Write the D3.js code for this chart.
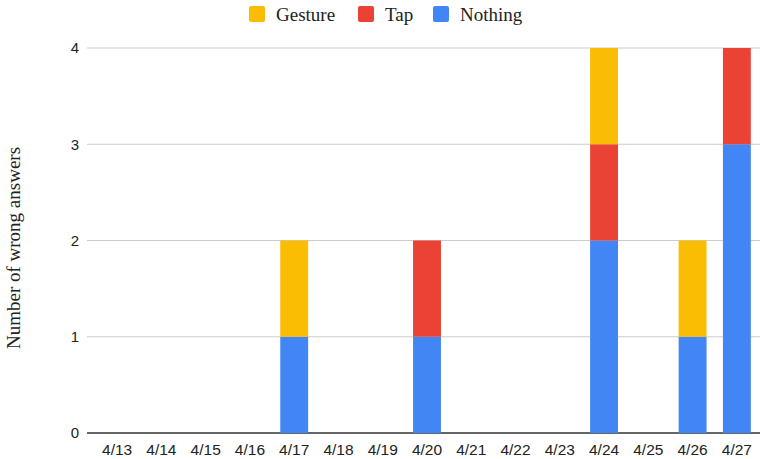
<!DOCTYPE html>
<html>
<head>
    <script src="https://cdnjs.cloudflare.com/ajax/libs/d3/7.8.5/d3.min.js"></script>
    <style>
        body { margin: 0; background: #fff; }
    </style>
</head>
<body>
    <svg id="chart" width="760" height="459"></svg>
    <script>
        var days = ["4/13", "4/14", "4/15", "4/16", "4/17", "4/18", "4/19", "4/20",
                    "4/21", "4/22", "4/23", "4/24", "4/25", "4/26", "4/27"]
        var nothing = [0, 0, 0, 0, 1, 0, 0, 1, 0, 0, 0, 2, 0, 1, 3]
        var tap     = [0, 0, 0, 0, 0, 0, 0, 1, 0, 0, 0, 1, 0, 0, 1]
        var gesture = [0, 0, 0, 0, 1, 0, 0, 0, 0, 0, 0, 1, 0, 1, 0]
        var yTicks = [0, 1, 2, 3, 4]

        var keys = ["Nothing", "Tap", "Gesture"]
        var colors = { Nothing: "#4285f4", Tap: "#ea4335", Gesture: "#fbbc04" }

        var rows = days.map((d, i) => ({ day: d, Nothing: nothing[i], Tap: tap[i], Gesture: gesture[i] }))
        var series = d3.stack().keys(keys)(rows)

        var svg = d3.select("#chart")

        var x = d3.scaleBand().domain(days).range([95, 759]).paddingInner(0.37).paddingOuter(0.185)
        var y = d3.scaleLinear().domain([0, 4]).range([433, 48])

        // grid
        svg.append("g")
            .selectAll("line")
            .data(yTicks)
            .enter().append("line")
            .attr("x1", 87).attr("x2", 760)
            .attr("y1", d => y(d)).attr("y2", d => y(d))
            .style("stroke", d => d === 0 ? "#333" : "#ccc")
            .style("stroke-width", d => d === 0 ? 1.5 : 1)

        // y tick labels
        svg.append("g")
            .selectAll("text")
            .data(yTicks)
            .enter().append("text")
            .attr("x", 79).attr("y", d => y(d))
            .attr("dy", "0.35em")
            .style("text-anchor", "end")
            .style("font-family", "Liberation Sans, Arial, sans-serif")
            .style("font-size", "15px")
            .style("fill", "#222")
            .text(d => d)

        // x tick labels
        svg.append("g")
            .selectAll("text")
            .data(days)
            .enter().append("text")
            .attr("x", d => x(d) + x.bandwidth() / 2)
            .attr("y", 455)
            .style("text-anchor", "middle")
            .style("font-family", "Liberation Sans, Arial, sans-serif")
            .style("font-size", "15.5px")
            .style("fill", "#222")
            .text(d => d)

        // bars
        svg.append("g")
            .selectAll("g")
            .data(series)
            .enter().append("g")
            .style("fill", s => colors[s.key])
            .selectAll("rect")
            .data(s => s.filter(d => d[1] > d[0]))
            .enter().append("rect")
            .attr("x", d => x(d.data.day))
            .attr("width", x.bandwidth())
            .attr("y", d => y(d[1]))
            .attr("height", d => y(d[0]) - y(d[1]))

        // y axis title
        svg.append("text")
            .attr("transform", "translate(20,248) rotate(-90)")
            .style("text-anchor", "middle")
            .style("font-family", "Liberation Serif, Times New Roman, serif")
            .style("font-size", "19px")
            .style("fill", "#222")
            .text("Number of wrong answers")

        // legend
        var legendItems = [
            { key: "Gesture", x: 249 },
            { key: "Tap", x: 358 },
            { key: "Nothing", x: 433 }
        ]
        var lg = svg.append("g").selectAll("g")
            .data(legendItems)
            .enter().append("g")
            .attr("transform", d => `translate(${d.x},6)`)
        lg.append("rect")
            .attr("width", 16).attr("height", 16).attr("rx", 2)
            .style("fill", d => colors[d.key])
        lg.append("text")
            .attr("x", 27).attr("y", 8).attr("dy", "0.35em")
            .style("font-family", "Liberation Serif, Times New Roman, serif")
            .style("font-size", "19px")
            .style("fill", "#222")
            .text(d => d.key)
    </script>
</body>
</html>
